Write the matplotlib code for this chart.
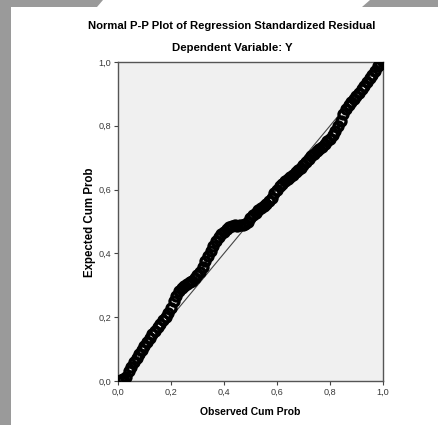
import matplotlib
matplotlib.use("Agg")
import matplotlib.pyplot as plt
from matplotlib.patches import Polygon, Rectangle

# observed vs expected cumulative probability
observed = [0.00, 0.01, 0.02, 0.03, 0.04, 0.05, 0.06, 0.07, 0.08, 0.09,
            0.10, 0.11, 0.12, 0.13, 0.14, 0.15, 0.16, 0.17, 0.18, 0.19,
            0.20, 0.21, 0.22, 0.23, 0.24, 0.25, 0.26, 0.27, 0.28, 0.29,
            0.30, 0.31, 0.32, 0.33, 0.34, 0.35, 0.36, 0.37, 0.38, 0.39,
            0.40, 0.41, 0.42, 0.43, 0.44, 0.45, 0.46, 0.47, 0.48, 0.49,
            0.50, 0.51, 0.52, 0.53, 0.54, 0.55, 0.56, 0.57, 0.58, 0.59,
            0.60, 0.61, 0.62, 0.63, 0.64, 0.65, 0.66, 0.67, 0.68, 0.69,
            0.70, 0.71, 0.72, 0.73, 0.74, 0.75, 0.76, 0.77, 0.78, 0.79,
            0.80, 0.81, 0.82, 0.83, 0.84, 0.85, 0.86, 0.87, 0.88, 0.89,
            0.90, 0.91, 0.92, 0.93, 0.94, 0.95, 0.96, 0.97, 0.98, 0.99,
            1.00]
expected = [0.000, 0.003, 0.005, 0.012, 0.030, 0.045, 0.058, 0.072, 0.085, 0.098,
            0.110, 0.122, 0.134, 0.146, 0.157, 0.168, 0.180, 0.190, 0.201, 0.214,
            0.230, 0.250, 0.268, 0.281, 0.290, 0.297, 0.303, 0.309, 0.315, 0.322,
            0.331, 0.342, 0.356, 0.375, 0.393, 0.408, 0.424, 0.438, 0.450, 0.460,
            0.467, 0.475, 0.484, 0.487, 0.488, 0.487, 0.488, 0.489, 0.492, 0.498,
            0.510, 0.520, 0.527, 0.535, 0.542, 0.548, 0.555, 0.563, 0.575, 0.588,
            0.600, 0.610, 0.618, 0.626, 0.633, 0.640, 0.647, 0.655, 0.662, 0.669,
            0.677, 0.686, 0.695, 0.704, 0.712, 0.720, 0.727, 0.735, 0.743, 0.751,
            0.760, 0.772, 0.784, 0.798, 0.816, 0.836, 0.853, 0.864, 0.874, 0.884,
            0.894, 0.904, 0.914, 0.926, 0.938, 0.949, 0.960, 0.973, 0.987, 0.995,
            1.000]
ticks = [0.0, 0.2, 0.4, 0.6, 0.8, 1.0]
tick_labels = ["0,0", "0,2", "0,4", "0,6", "0,8", "1,0"]

plt.rcParams['font.family'] = ['Liberation Sans', 'DejaVu Sans']

W, H = 439, 425
fig = plt.figure(figsize=(W / 100, H / 100), dpi=100)
fig.patch.set_facecolor("white")

# grey frame bits around the screenshot
frame = "#9a9a9a"
fig.patches.append(Rectangle((0, 0), 11 / W, 1, transform=fig.transFigure,
                             facecolor=frame, edgecolor="none"))
fig.patches.append(Polygon([(0, 1), (103 / W, 1), (97 / W, 1 - 7 / H), (0, 1 - 7 / H)],
                           closed=True, transform=fig.transFigure,
                           facecolor=frame, edgecolor="none"))
fig.patches.append(Polygon([(370 / W, 1), (1, 1), (1, 1 - 7 / H), (362 / W, 1 - 7 / H)],
                           closed=True, transform=fig.transFigure,
                           facecolor=frame, edgecolor="none"))

ax = fig.add_axes([118 / W, 44 / H, 265 / W, 319 / H])
ax.set_facecolor("#f0f0f0")

ax.plot([0, 1], [0, 1], color="#444444", lw=0.8, zorder=2)
ax.plot(observed, expected, linestyle="none", marker="o", ms=6.5,
        mfc="none", mec="black", mew=2.4, zorder=3)

ax.set_xlim(0, 1)
ax.set_ylim(0, 1)
ax.set_xticks(ticks)
ax.set_xticklabels(tick_labels)
ax.set_yticks(ticks)
ax.set_yticklabels(tick_labels)
ax.tick_params(direction="out", length=3, width=0.8, color="#444444",
               labelsize=6.6, labelcolor="#3a3a3a", pad=2)
for s in ax.spines.values():
    s.set_color("#555555")
    s.set_linewidth(1.0)

fig.text(232 / W, 1 - 26 / H, "Normal P-P Plot of Regression Standardized Residual",
         ha="center", va="center", fontsize=8.1, fontweight="bold")
fig.text(232 / W, 1 - 48 / H, "Dependent Variable: Y",
         ha="center", va="center", fontsize=8.2, fontweight="bold")
fig.text(250 / W, 1 - 412 / H, "Observed Cum Prob",
         ha="center", va="center", fontsize=7.5, fontweight="bold")
fig.text(90 / W, 1 - 222 / H, "Expected Cum Prob", rotation=90,
         ha="center", va="center", fontsize=8.3, fontweight="bold")

fig.savefig("out.png", dpi=100)
